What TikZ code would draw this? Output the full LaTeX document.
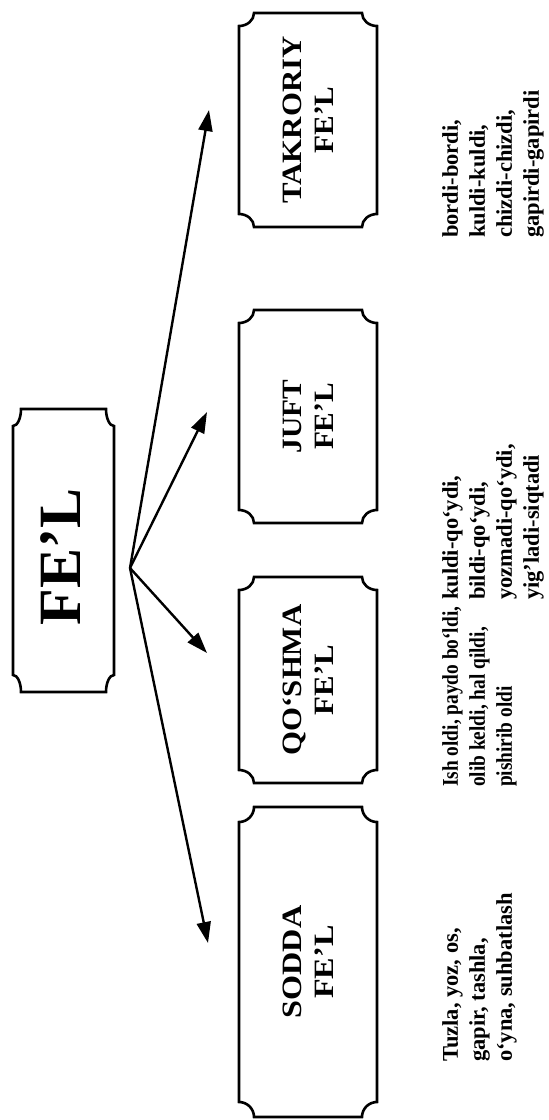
\documentclass[tikz,border=0pt]{standalone}
\usepackage{fontspec}
\setmainfont{Liberation Serif}
\usepackage{graphicx}
\usetikzlibrary{arrows.meta,calc}
\newcommand\cornerframe[3]{%
  \draw[frameline] ($(#1.north west)+(#2,0)$) -- ($(#1.north east)+(-#2,0)$)
    .. controls ($(#1.north east)+(-#2,0.55*#3)$) and ($(#1.north east)+(-0.55*#2,#3)$) .. ($(#1.north east)+(0,#3)$)
    -- ($(#1.south east)+(0,-#3)$)
    .. controls ($(#1.south east)+(-0.55*#2,-#3)$) and ($(#1.south east)+(-#2,-0.55*#3)$) .. ($(#1.south east)+(-#2,0)$)
    -- ($(#1.south west)+(#2,0)$)
    .. controls ($(#1.south west)+(#2,-0.55*#3)$) and ($(#1.south west)+(0.55*#2,-#3)$) .. ($(#1.south west)+(0,-#3)$)
    -- ($(#1.north west)+(0,#3)$)
    .. controls ($(#1.north west)+(0.55*#2,#3)$) and ($(#1.north west)+(#2,0.55*#3)$) .. cycle;}
\newcommand\stretchtxt[2]{\scalebox{#1}[1]{#2}}
\tikzset{
  frame/.style={rectangle, draw=none, inner sep=0pt, outer sep=0pt},
  frameline/.style={line width=2.6pt, line join=miter},
  lbl/.style={rotate=90, align=center, inner sep=0pt, font=\bfseries\fontsize{28}{32}\selectfont},
  mainlbl/.style={rotate=90, inner sep=0pt, font=\bfseries\fontsize{60}{62}\selectfont},
  ex/.style={rotate=90, align=left, anchor=north west, inner sep=0pt, font=\bfseries\fontsize{22.5}{27}\selectfont},
  arr/.style={line width=2.4pt, -{Triangle[length=21pt,width=14pt]}},
}
\begin{document}
\begin{tikzpicture}[x=1pt,y=-1pt]
\fill[white] (0,0) rectangle (549,1120);
\useasboundingbox (0,0) rectangle (549,1120);

% frames
\node[frame, minimum width=101, minimum height=283] (fel) at (63.5,550.5) {};
\node[frame, minimum width=138, minimum height=214] (tak) at (308,120) {};
\node[frame, minimum width=138, minimum height=213] (juft) at (308,416.5) {};
\node[frame, minimum width=138, minimum height=206] (qos) at (308,680) {};
\node[frame, minimum width=138, minimum height=310] (sod) at (308,962) {};
\cornerframe{fel}{8}{17}
\cornerframe{tak}{15}{13}
\cornerframe{juft}{15}{13}
\cornerframe{qos}{15}{13}
\cornerframe{sod}{15}{15}

% labels
\node[mainlbl] (felL) at (61,557) {FE’L};
\node[lbl] (takL) at (tak) {\stretchtxt{1.1}{TAKRORIY}\\\stretchtxt{1.05}{FE’L}};
\node[lbl] (juftL) at (juft) {\stretchtxt{1.05}{JUFT}\\\stretchtxt{1.05}{FE’L}};
\node[lbl] (qosL) at (qos) {\stretchtxt{1.1}{QO‘SHMA}\\\stretchtxt{1.1}{FE’L}};
\node[lbl] (sodL) at (sod) {\stretchtxt{1.15}{SODDA}\\\stretchtxt{1.15}{FE’L}};

% arrows
\coordinate (hub) at (130,568);
\coordinate (tipT) at (209,110);
\coordinate (tipJ) at (207,412);
\coordinate (tipQ) at (207,653);
\coordinate (tipS) at (208,943);
\draw[arr] (hub) -- (tipT);
\draw[arr] (hub) -- (tipJ);
\draw[arr] (hub) -- (tipQ);
\draw[arr] (hub) -- (tipS);

% examples
\node[ex] (takE) at (442,238) {bordi-bordi,\\kuldi-kuldi,\\chizdi-chizdi,\\gapirdi-gapirdi};
\node[ex] (juftE) at (442,600) {kuldi-qo‘ydi,\\bildi-qo‘ydi,\\yozmadi-qo‘ydi,\\yig’ladi-siqtadi};
\node[ex] (qosE) at (442,787) {\stretchtxt{0.86}{Ish oldi, paydo bo‘ldi,}\\\stretchtxt{0.86}{olib keldi, hal qildi,}\\\stretchtxt{0.86}{pishirib oldi}};
\node[ex] (sodE) at (442,1062) {Tuzla, yoz, os,\\gapir, tashla,\\o‘yna, suhbatlash};
\end{tikzpicture}
\end{document}
